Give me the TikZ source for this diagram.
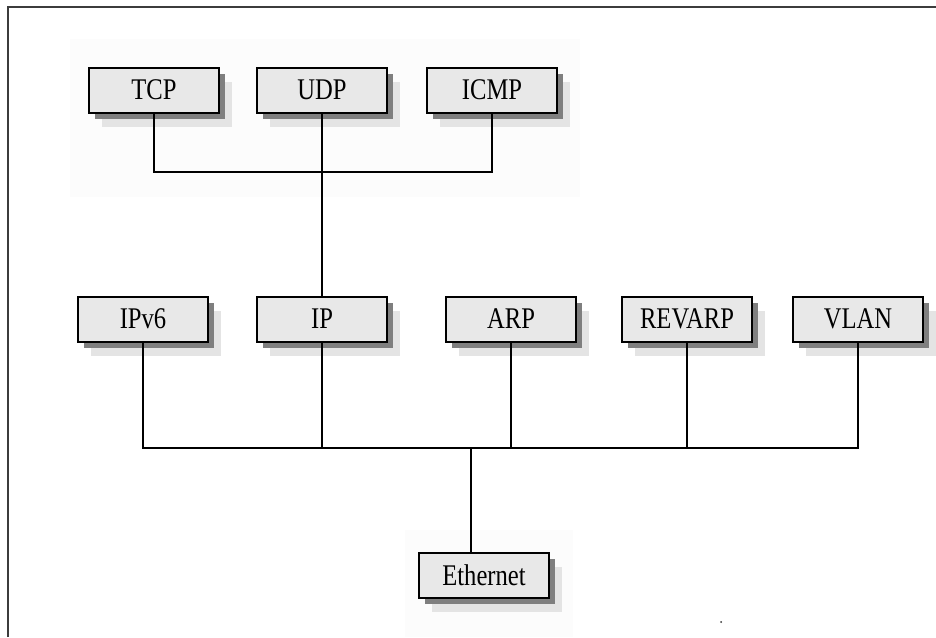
\documentclass[tikz,border=0pt]{standalone}
\usepackage{fontspec}
\newfontfamily\boxfont[FakeStretch=0.82]{Liberation Serif}
\usetikzlibrary{shadows}

\definecolor{boxgray}{HTML}{E8E8E8}
\definecolor{shadowdark}{HTML}{7F7F7F}
\definecolor{shadowlight}{HTML}{E4E4E4}
\definecolor{framegray}{HTML}{3C3C3C}
\definecolor{panelgray}{HTML}{FCFCFC}

\tikzset{
  proto/.style={draw=black, line width=2pt, fill=boxgray,
    minimum width=130pt, minimum height=45pt, inner sep=0pt,
    font=\boxfont\fontsize{30}{30}\selectfont,
    general shadow={fill=shadowlight, shadow xshift=13pt, shadow yshift=-14pt},
    general shadow={fill=shadowdark, shadow xshift=6pt, shadow yshift=-6pt}},
  link/.style={line width=2pt, black},
  panel/.style={fill=panelgray, draw=none}
}

\begin{document}
\begin{tikzpicture}[x=1pt, y=-1pt]
  \useasboundingbox (0,0) rectangle (936,637);
  \fill[white] (0,0) rectangle (936,637);

  % faint background panels
  \fill[panel] (70,39) rectangle (580,197);
  \fill[panel] (405,530) rectangle (573,637);

  % outer frame (top and left edges)
  \draw[line width=2.5pt, framegray] (8,637) -- (8,7) -- (936,7);

  % transport layer
  \node[proto] (tcp)  at (154,90) {TCP};
  \node[proto] (udp)  at (322,90) {UDP};
  \node[proto] (icmp) at (492,90) {ICMP};

  % network layer
  \node[proto] (ipv6)   at (143,319) {IPv6};
  \node[proto] (ip)     at (322,319) {IP};
  \node[proto] (arp)    at (511,319) {ARP};
  \node[proto] (revarp) at (687,319) {REVARP};
  \node[proto] (vlan)   at (858,319) {VLAN};

  % link layer
  \node[proto] (eth) at (484,575) {Ethernet};

  % junction points of the buses
  \coordinate (topbar) at (322,172);
  \coordinate (bus) at (471,448);

  % upper bus
  \draw[link] (tcp.south) -- (tcp.south |- topbar) -- (icmp.south |- topbar) -- (icmp.south);
  \draw[link] (udp.south) -- (ip.north);

  % lower bus
  \draw[link] (ipv6.south) -- (ipv6.south |- bus) -- (vlan.south |- bus) -- (vlan.south);
  \draw[link] (ip.south) -- (ip.south |- bus);
  \draw[link] (arp.south) -- (arp.south |- bus);
  \draw[link] (revarp.south) -- (revarp.south |- bus);
  \draw[link] (bus) -- (bus |- eth.north);

  % stray mark
  \fill[black!80] (721,622) circle (1pt);
\end{tikzpicture}
\end{document}
